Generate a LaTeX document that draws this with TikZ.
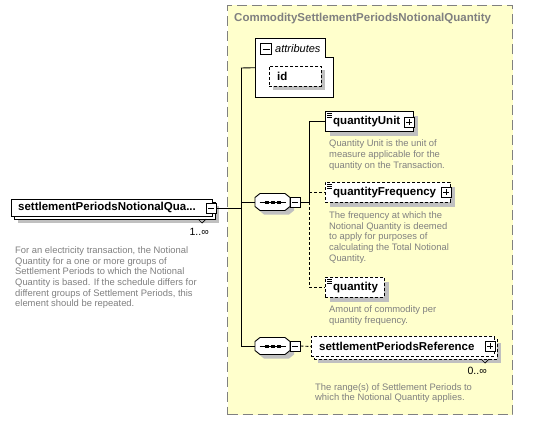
\documentclass[tikz,border=0pt]{standalone}
\usepackage{fontspec}
\setmainfont{Liberation Sans}
\usetikzlibrary{shadows}
\definecolor{bgyellow}{RGB}{255,255,204}
\definecolor{shadowgray}{RGB}{192,192,192}
\definecolor{txtgray}{RGB}{128,128,128}
\definecolor{framegray}{RGB}{128,128,128}
\newcommand\seqicon[3]{%
  \begin{scope}[shift={(#2,#3)}]
    \fill[shadowgray,shift={(4,4)}] (-12.5,-8.5) -- (12.5,-8.5) -- (17.5,-4.5) -- (17.5,4.5) -- (12.5,8.5) -- (-12.5,8.5) -- (-17.5,4.5) -- (-17.5,-4.5) -- cycle;
    \draw[line width=0.9pt, fill=white] (-12.5,-8.5) -- (12.5,-8.5) -- (17.5,-4.5) -- (17.5,4.5) -- (12.5,8.5) -- (-12.5,8.5) -- (-17.5,4.5) -- (-17.5,-4.5) -- cycle;
    \draw[line width=0.9pt] (-13,0) -- (13,0);
    \fill (-8,-1.5) rectangle (-4,1.5);
    \fill (-2,-1.5) rectangle (2,1.5);
    \fill (4,-1.5) rectangle (8,1.5);
    \node[inner sep=0, minimum width=35pt, minimum height=17pt] (#1) at (0,0) {};
    \node[minusbox] (#1m) at (22.5,0) {};
  \end{scope}}
\newcommand\docicon[1]{%
  \draw[line width=0.6pt] ([shift={(2,2)}]#1.north west) -- +(5,0)
    ([shift={(2,4)}]#1.north west) -- +(5,0)
    ([shift={(2,6)}]#1.north west) -- +(5,0);}
\tikzset{
  box/.style={draw=black, fill=white, line width=0.9pt, inner sep=0, anchor=north west},
  optbox/.style={box, dash pattern=on 3pt off 2pt},
  shad/.style={general shadow={fill=shadowgray, shadow xshift=5pt, shadow yshift=-5pt}},
  shadsmall/.style={general shadow={fill=shadowgray, shadow xshift=4pt, shadow yshift=-4pt}},
  conn/.style={line width=0.9pt},
  optconn/.style={line width=0.9pt, dash pattern=on 3pt off 2pt},
  btext/.style={font=\fontsize{11.5}{13}\selectfont\bfseries, inner sep=0, anchor=west},
  itext/.style={font=\fontsize{11}{13}\selectfont\itshape, inner sep=0, anchor=west},
  dtext/.style={font=\fontsize{9.4}{10.7}\selectfont, text=txtgray, align=left, inner sep=0, anchor=north west},
  ctext/.style={font=\fontsize{10.5}{12}\selectfont, inner sep=0, anchor=east},
  pmbox/.style={draw=black, fill=white, line width=0.9pt, minimum size=10pt, inner sep=0},
  minusbox/.style={pmbox, path picture={\draw[line width=0.9pt] ([xshift=2pt]path picture bounding box.west) -- ([xshift=-2pt]path picture bounding box.east);}},
  plusbox/.style={pmbox, path picture={\draw[line width=0.9pt] ([xshift=2pt]path picture bounding box.west) -- ([xshift=-2pt]path picture bounding box.east) ([yshift=-2pt]path picture bounding box.north) -- ([yshift=2pt]path picture bounding box.south);}},
}
\begin{document}
\begin{tikzpicture}[x=1pt,y=-1pt]
\useasboundingbox (0,0) rectangle (543,420);
\fill[white] (0,0) rectangle (543,420);

% container
\node[draw=framegray, line width=1pt, dash pattern=on 10pt off 5pt, fill=bgyellow, inner sep=0, anchor=north west, minimum width=285pt, minimum height=409pt] (frame) at (227,5) {};
\node[btext, text=txtgray] (title) at (234,19) {CommoditySettlementPeriodsNotionalQuantity};

% attributes
\draw[line width=0.9pt, fill=white] (255,38) -- (325,38) -- (325,57) -- (333,57) -- (333,97) -- (255,97) -- cycle;
\node[inner sep=0, minimum width=78pt, minimum height=59pt, anchor=north west] (attr) at (255,38) {};
\node[minusbox, minimum size=11pt] (attrm) at (266,49) {};
\node[itext] (attrtext) at (275,48.5) {attributes};
\node[optbox, shadsmall, minimum width=52pt, minimum height=20pt] (id) at (269,66) {};
\node[btext] (idtext) at ([xshift=8pt]id.west) {id};

% main element
\node[box, shadsmall, minimum width=201pt, minimum height=17pt] (mainback) at (14,202) {};
\node[box, minimum width=201pt, minimum height=17pt] (main) at (11,199) {};
\node[btext] (maintext) at ([xshift=7pt]main.west) {settlementPeriodsNotionalQua...};
\node[minusbox] (mainm) at (211,208) {};
\draw[line width=0.7pt] (198,219) -- (202,223) -- (206,219);
\node[ctext] (maincard) at (209,232) {1..∞};
\node[dtext] (maindesc) at (15,246.4) {For an electricity transaction, the Notional\\Quantity for a one or more groups of\\Settlement Periods to which the Notional\\Quantity is based. If the schedule differs for\\different groups of Settlement Periods, this\\element should be repeated.};

% sequences
\seqicon{seqa}{272.5}{202}
\seqicon{seqb}{272.5}{346}

% children
\node[box, shad, minimum width=88pt, minimum height=20pt] (qu) at (325,111) {};
\node[btext] (qutext) at ([xshift=8pt]qu.west) {quantityUnit};
\node[plusbox] (qup) at (409,122) {};
\docicon{qu}
\node[dtext] (qudesc) at (329,139.7) {Quantity Unit is the unit of\\measure applicable for the\\quantity on the Transaction.};

\node[optbox, shad, minimum width=125pt, minimum height=20pt] (qf) at (325,182) {};
\node[btext] (qftext) at ([xshift=8pt]qf.west) {quantityFrequency};
\node[plusbox] (qfp) at (446,192) {};
\docicon{qf}
\node[dtext] (qfdesc) at (329,211.4) {The frequency at which the\\Notional Quantity is deemed\\to apply for purposes of\\calculating the Total Notional\\Quantity.};

\node[optbox, shad, minimum width=59pt, minimum height=20pt] (q) at (325,277) {};
\node[btext] (qtext) at ([xshift=8pt]q.west) {quantity};
\docicon{q}
\node[dtext] (qdesc) at (329,305.5) {Amount of commodity per\\quantity frequency.};

\node[optbox, shadsmall, minimum width=183pt, minimum height=20pt] (sprback) at (314,339) {};
\node[optbox, minimum width=183pt, minimum height=20pt] (spr) at (311,336) {};
\node[btext] (sprtext) at ([xshift=8pt]spr.west) {settlementPeriodsReference};
\node[plusbox] (sprp) at (490,346) {};
\draw[line width=0.7pt] (481,359) -- (485,363) -- (489,359);
\node[ctext] (sprcard) at (487,371) {0..∞};
\node[dtext] (sprdesc) at (315,383) {The range(s) of Settlement Periods to\\which the Notional Quantity applies.};

% connectors
\coordinate (tA) at (241,68);
\coordinate (tB) at (241,346);
\coordinate (tC) at (309,121);
\draw[conn] (tA) -- (tB);
\draw[conn] (tA) -- (attr.west);
\draw[conn] (mainm.east) -- (mainm.east -| tA);
\draw[conn] (seqa.west -| tA) -- (seqa.west);
\draw[conn] (tB) -- (seqb.west);
\draw[conn] (seqam.east) -- (seqam.east -| tC);
\draw[conn] (qu.west -| tC) -- (seqam.east -| tC);
\draw[optconn] (seqam.east -| tC) -- (q.west -| tC);
\draw[conn] (qu.west -| tC) -- (qu.west);
\draw[optconn] (qf.west -| tC) -- (qf.west);
\draw[optconn] (q.west -| tC) -- (q.west);
\draw[optconn] (seqbm.east) -- (spr.west);
\end{tikzpicture}
\end{document}
